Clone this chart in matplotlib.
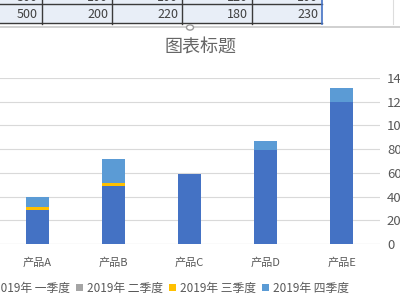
import numpy as np
import matplotlib.pyplot as plt
from matplotlib import patches
from matplotlib.lines import Line2D

plt.rcParams['font.family'] = ['Noto Sans CJK SC', 'DejaVu Sans']

# data
products = ['产品A', '产品B', '产品C', '产品D', '产品E']
series_names = ['2019年 一季度', '2019年 二季度', '2019年 三季度', '2019年 四季度']
q1 = [285, 485, 590, 790, 1200]
q2 = [0, 0, 0, 0, 0]
q3 = [25, 30, 0, 0, 0]
q4 = [90, 200, 0, 80, 115]
colors = ['#4472C4', '#A5A5A5', '#FFC000', '#5B9BD5']

# spreadsheet rows peeking in at the top
table_top = ['300', '100', '100', '120', '100']
table_row = ['500', '200', '220', '180', '230']

W, H = 400, 300
fig = plt.figure(figsize=(4, 3), dpi=100)

def fx(px): return px / W
def fy(py): return 1 - py / H

# --- spreadsheet strip at the top ---
fig.patches.append(patches.Rectangle((0, fy(24)), fx(322), 24 / H, transform=fig.transFigure,
                                     facecolor='#E8EEF7', edgecolor='none', zorder=0))
for yy in [4, 23]:
    fig.add_artist(Line2D([0, fx(322)], [fy(yy), fy(yy)], color='#3A3A3A', lw=1.0))
for xx in [42, 112, 182, 252]:
    fig.add_artist(Line2D([fx(xx), fx(xx)], [fy(24), 1], color='#3A3A3A', lw=1.0))
fig.add_artist(Line2D([fx(322), fx(322)], [fy(24), 1], color='#4472C4', lw=1.2))
fig.add_artist(Line2D([fx(393), fx(393)], [fy(24), 1], color='#DDDDDD', lw=0.8))
for i, (a, b) in enumerate(zip(table_top, table_row)):
    xr = fx(38 + 70 * i)
    fig.text(xr, fy(-2.5), a, ha='right', va='center', fontsize=9, color='#404040')
    fig.text(xr, fy(14), b, ha='right', va='center', fontsize=9, color='#404040')
fig.add_artist(Line2D([0, 1], [fy(26.5), fy(26.5)], color='#C8C8C8', lw=1.2))
fig.patches.append(patches.Circle((fx(190), fy(27.5)), 3.5 / W, transform=fig.transFigure,
                                  facecolor='white', edgecolor='#9A9A9A', lw=1.0, zorder=5))

# --- chart ---
ax = fig.add_axes([fx(-1), fy(244), 381 / W, (244 - 78) / H])
x = np.arange(len(products))
bottom = np.zeros(len(products))
for vals, name, c in zip([q1, q2, q3, q4], series_names, colors):
    ax.bar(x, vals, width=0.3, bottom=bottom, color=c, label=name, zorder=3)
    bottom += np.array(vals)

ax.set_xlim(-0.5, 4.5)
ax.set_ylim(0, 1400)
ax.set_yticks(np.arange(0, 1401, 200))
ax.yaxis.tick_right()
ax.grid(axis='y', color='#D9D9D9', lw=0.8, zorder=0)
for s in ax.spines.values():
    s.set_visible(False)
ax.axhline(0, color='#D9D9D9', lw=0.8, zorder=1)
ax.tick_params(axis='y', length=0, pad=5, labelsize=9.5, labelcolor='#595959')
ax.set_xticks(x)
ax.set_xticklabels(products)
ax.tick_params(axis='x', length=0, pad=10, labelsize=8, labelcolor='#595959')

fig.text(0.5, fy(48), '图表标题', ha='center', va='center', fontsize=13, color='#666666')

ax.legend(loc='center', bbox_to_anchor=(fx(166), fy(288)), bbox_transform=fig.transFigure,
          ncol=4, frameon=False, fontsize=8.5, labelcolor='#595959',
          handlelength=0.6, handleheight=0.6, handletextpad=0.3, columnspacing=0.55)

fig.savefig('out.png', dpi=100)
